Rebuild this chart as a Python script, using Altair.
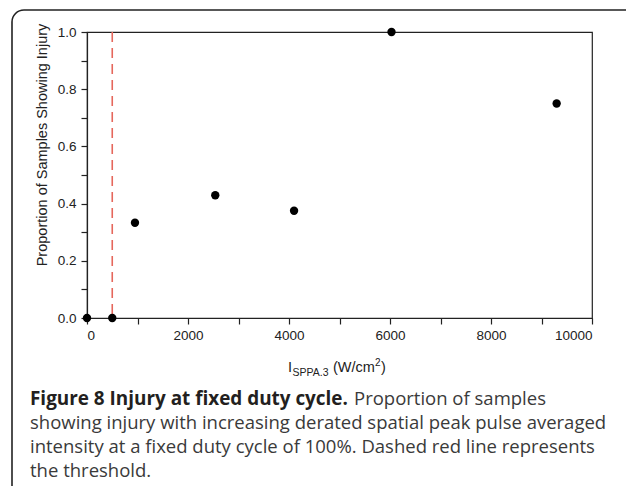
import altair as alt
import pandas as pd

# ---- data ----
x_vals = [0, 500, 950, 2540, 4100, 6030, 9300]
y_vals = [0.0, 0.0, 0.333, 0.429, 0.375, 1.0, 0.75]
threshold = [500]
x_ticks = list(range(0, 10001, 1000))
y_ticks = [round(i * 0.1, 1) for i in range(11)]

y_title = "Proportion of Samples Showing Injury"
x_title_parts = ["I", "SPPA.3", "(W/cm", "2", ")"]

cap_bold = "Figure 8 Injury at fixed duty cycle."
cap_lines = [
    "Proportion of samples",
    "showing injury with increasing derated spatial peak pulse averaged",
    "intensity at a fixed duty cycle of 100%. Dashed red line represents",
    "the threshold.",
]

# plot origin in page coords: (87, 32)
OX, OY = 87, 32
W, H = 505, 286

pts = pd.DataFrame({"x": x_vals, "y": y_vals})
thr = pd.DataFrame({"x": threshold})
one = pd.DataFrame({"a": [0]})

AX_FONT = "Liberation Sans"
CAP_FONT = "Open Sans"

xscale = alt.Scale(domain=[0, 10000], nice=False)
yscale = alt.Scale(domain=[0, 1], nice=False)

xaxis = alt.Axis(
    values=x_ticks,
    labelExpr="round(datum.value/1000) % 2 == 0 ? format(datum.value, 'd') : ''",
    title=None, grid=False, tickSize=6, labelPadding=4,
    labelFont=AX_FONT, labelFontSize=13.5, labelColor="#222",
    domainColor="#222", tickColor="#222", domainWidth=1.2, tickWidth=1.2,
)
yaxis = alt.Axis(
    values=y_ticks,
    labelExpr="round(datum.value*10) % 2 == 0 ? format(datum.value, '.1f') : ''",
    title=None, grid=False, tickSize=6, labelPadding=5,
    labelFont=AX_FONT, labelFontSize=13.5, labelColor="#222",
    domainColor="#222", tickColor="#222", domainWidth=1.2, tickWidth=1.2,
)

points = alt.Chart(pts).mark_point(filled=True, size=70, color="black", opacity=1, clip=False).encode(
    x=alt.X("x:Q", scale=xscale, axis=xaxis),
    y=alt.Y("y:Q", scale=yscale, axis=yaxis),
)

rule = alt.Chart(thr).mark_rule(color="#e5675c", strokeWidth=1.6, strokeDash=[10, 6]).encode(
    x=alt.X("x:Q", scale=xscale),
)

box = alt.Chart(one).mark_rect(
    fillOpacity=0, stroke="#222", strokeWidth=1.6, cornerRadius=12
).encode(
    x=alt.value(12 - OX), x2=alt.value(642 - OX),
    y=alt.value(10 - OY), y2=alt.value(520 - OY),
)

def txt(s, px, py, size, font=AX_FONT, weight="normal", color="#222", angle=0, align="left", baseline="alphabetic"):
    kw = dict(text=s, font=font, fontSize=size, fontWeight=weight, color=color,
              align=align, baseline=baseline)
    if angle:
        kw["angle"] = angle
    return alt.Chart(one).mark_text(**kw).encode(
        x=alt.value(px - OX), y=alt.value(py - OY)
    )

layers = [box, rule, points]

# y axis title
layers.append(txt(y_title, 43, 145, 14.5, angle=270, align="center", baseline="middle"))

# x axis title with sub/superscript
xb = 372
layers.append(txt(x_title_parts[0], 288, xb, 14.5))
layers.append(txt(x_title_parts[1], 292.5, xb + 4, 10.5))
layers.append(txt(x_title_parts[2], 333, xb, 14.5))
layers.append(txt(x_title_parts[3], 375, xb - 6, 10))
layers.append(txt(x_title_parts[4], 381, xb, 14.5))

# caption
layers.append(txt(cap_bold, 30, 405, 18.9, font=CAP_FONT, weight="bold", color="#231f20"))
layers.append(txt(cap_lines[0], 354, 405, 18.5, font=CAP_FONT, color="#3a3a3a"))
for i, line in enumerate(cap_lines[1:]):
    layers.append(txt(line, 30, 429 + 24 * i, 18.5, font=CAP_FONT, color="#3a3a3a"))

chart = alt.layer(*layers).properties(
    width=W, height=H,
    autosize=alt.AutoSizeParams(type="none"),
    padding={"left": OX - 8, "top": OY - 8, "right": 618 - (OX - 8) - W, "bottom": 478 - (OY - 8) - H},
).configure_view(stroke="#222", strokeWidth=1.2)

chart.save("out.html", embed_options={"renderer": "svg", "actions": False})
